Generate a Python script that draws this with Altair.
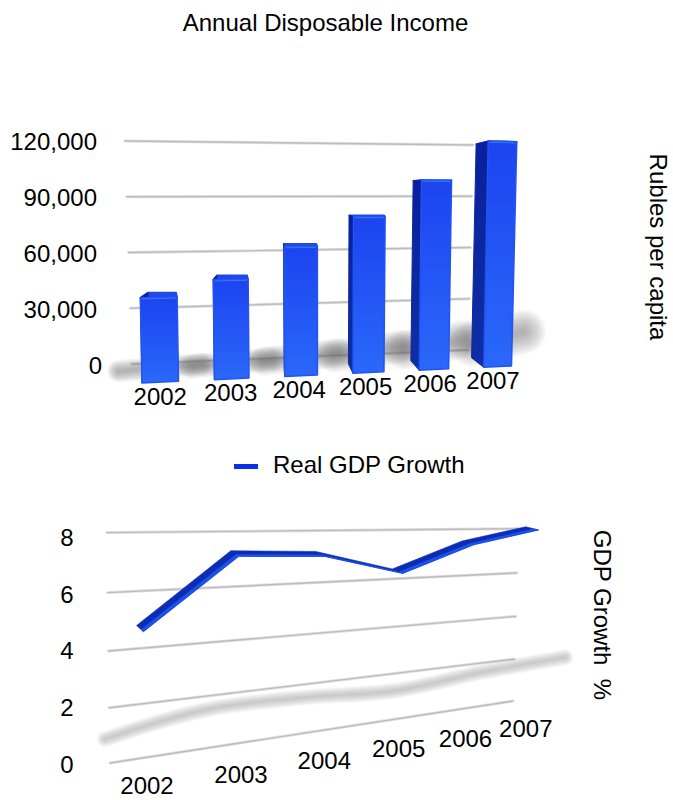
import altair as alt
import pandas as pd

# Series and labels
YEARS = ["2002", "2003", "2004", "2005", "2006", "2007"]
INCOME = [41000, 49000, 65000, 80000, 99000, 120000]
INCOME_TICKS = [0, 30000, 60000, 90000, 120000]
GDP = [4.7, 7.2, 7.1, 6.3, 7.4, 8.0]
GDP_TICKS = [0, 2, 4, 6, 8]

FONT = "Liberation Sans"
SX = alt.Scale(domain=[0, 673], range=[0, 673])
SY = alt.Scale(domain=[0, 800], range=[0, 800])


# ---- perspective of the income bars ----
def bar_width(i):
    return 0.5 - 0.012 * i

def bar_x(s):
    return 142 + 73.5 * s / (1 + 0.0151 * s)

def bar_pt(s, v):
    x0 = bar_x(s)
    base = 383 - 17 * (x0 - 142) / 369
    unit = (2.07 - 0.000573 * (x0 - 160)) / 1000
    lean = (x0 - 320) * 0.00023 / 1000
    return x0 + lean * v, base - v * unit

def bar_back(s, v):
    x, y = bar_pt(s, v)
    return x - (bar_x(s) - 275) * 0.058, y - 9.5 + 0.000104 * v

def income_grid(v):
    t = v / 120000
    return (132 - 7 * t, 364 - 223 * t, 468 + 5 * t, 350 - 205 * t)


# ---- perspective of the GDP plane ----
def gdp_left_y(v):
    return 763 - 27.2 * v - 0.2 * v * v

def gdp_right_y(v):
    return 701 - 20.75 * v - 0.1 * v * v

def gdp_pt(i, v):
    x = 140 + 100 * i / (1 + 0.055 * i)
    u = (140 + 101.3 * i / (1 + 0.055 * i) - 110) / 405
    return x, gdp_left_y(v) + (gdp_right_y(v) - gdp_left_y(v)) * u

def gdp_shadow(i, v):
    x = 105 + 104 * i / (1 + 0.026 * i)
    return x, 783.4 - 0.131 * x - 6.5 * v


# ---- mark helpers ----
def polygons(rows, **mark):
    df = pd.DataFrame(rows, columns=["g", "n", "x", "y"])
    return alt.Chart(df).mark_line(interpolate="linear-closed", **mark).encode(
        x=alt.X("x:Q", scale=SX, axis=None),
        y=alt.Y("y:Q", scale=SY, axis=None),
        detail="g:N",
        order="n:Q",
    )

def strokes(rows, interpolate="linear", cap="round", **mark):
    df = pd.DataFrame(rows, columns=["g", "n", "x", "y", "w"])
    return alt.Chart(df).mark_line(interpolate=interpolate, strokeCap=cap, strokeJoin="round", **mark).encode(
        x=alt.X("x:Q", scale=SX, axis=None),
        y=alt.Y("y:Q", scale=SY, axis=None),
        detail="g:N",
        order="n:Q",
        strokeWidth=alt.StrokeWidth("w:Q", scale=None, legend=None),
    )

def rules(rows):
    df = pd.DataFrame(rows, columns=["x", "y", "x2", "y2"])
    enc = dict(
        x=alt.X("x:Q", scale=SX, axis=None),
        y=alt.Y("y:Q", scale=SY, axis=None),
        x2="x2:Q",
        y2="y2:Q",
    )
    return [
        alt.Chart(df).mark_rule(color="#e0e0e0", strokeWidth=3, strokeCap="round").encode(**enc),
        alt.Chart(df).mark_rule(color="#bdbdbd", strokeWidth=1.4, strokeCap="round").encode(**enc),
    ]

def texts(rows, size=24, align="center", angle=0):
    df = pd.DataFrame(rows, columns=["x", "y", "label"])
    return alt.Chart(df).mark_text(
        font=FONT, fontSize=size, align=align, baseline="middle", angle=angle, color="#000000"
    ).encode(
        x=alt.X("x:Q", scale=SX, axis=None),
        y=alt.Y("y:Q", scale=SY, axis=None),
        text="label:N",
    )


# ---- income chart ----
layers = []
layers += rules([income_grid(v) for v in INCOME_TICKS])

# soft floor shadows: many faint strokes of shrinking width build up a blur
shadow_rows = []
SHADOW_LEVELS = [1.0, 0.92, 0.84, 0.76, 0.68, 0.6, 0.52, 0.44, 0.36, 0.28, 0.2, 0.12]
for i, v in enumerate(INCOME):
    xl, yl = bar_pt(i, 0)
    xr, yr = bar_pt(i + bar_width(i), 0)
    cx = (xl + xr) / 2
    cy = (yl + yr) / 2 - 10 - 0.000125 * v
    half = 50 - 0.0002 * v
    thick = 11 + 0.00028 * v
    rise = 0.3 * (i / 5) ** 2 + 0.08
    for k, f in enumerate(SHADOW_LEVELS):
        g = f"{i}-{k}"
        shadow_rows.append((g, 0, cx - half, cy + half * 0.1, thick * f))
        shadow_rows.append((g, 1, cx + half, cy - half * rise, thick * f))
layers.append(strokes(shadow_rows, color="#707070", opacity=0.055))

top_rows, side_rows, front_rows, edge_rows = [], [], [], []
for i, v in enumerate(INCOME):
    s0, s1 = i, i + bar_width(i)
    fl0, fl1 = bar_pt(s0, 0), bar_pt(s0, v)
    fr0, fr1 = bar_pt(s1, 0), bar_pt(s1, v)
    bl0, bl1 = bar_back(s0, 0), bar_back(s0, v)
    br1 = (fr1[0] - 1, bl1[1])
    for n, p in enumerate([fl1, fr1, br1, bl1]):
        top_rows.append((i, n, *p))
    for n, p in enumerate([fl0, fl1, bl1, bl0]):
        side_rows.append((i, n, *p))
    for n, p in enumerate([fl0, fl1, fr1, fr0]):
        front_rows.append((i, n, *p))
    edge_rows.append((i, 0, fl1[0] + 2, fl1[1] + 1.2, 1))
    edge_rows.append((i, 1, fr1[0] - 2, fr1[1] + 1.2, 1))

layers.append(polygons(top_rows, fill="#1f48ea", stroke="#1f48ea", strokeWidth=1.5, strokeJoin="round"))
layers.append(polygons(
    side_rows,
    fill=alt.LinearGradient(
        gradient="linear", x1=0, x2=0, y1=0, y2=1,
        stops=[alt.GradientStop(color="#0a1f9e", offset=0), alt.GradientStop(color="#0f2fa4", offset=1)],
    ),
    stroke="#0c27a0", strokeWidth=1, strokeJoin="round",
))
layers.append(polygons(
    front_rows,
    fill=alt.LinearGradient(
        gradient="linear", x1=0, x2=0, y1=0, y2=1,
        stops=[alt.GradientStop(color="#1c44f0", offset=0), alt.GradientStop(color="#2a68fa", offset=1)],
    ),
    stroke="#2353f2", strokeWidth=1.5, strokeJoin="round",
))
layers.append(strokes(edge_rows, color="#3f86f0", opacity=0.8))

layers.append(texts([(325.5, 24, "Annual Disposable Income")]))
tick_labels = [f"{v:,}" for v in INCOME_TICKS]
layers.append(texts(
    [(97 + (5 if v == 0 else 0), 367 - 224 * v / 120000, lab) for v, lab in zip(INCOME_TICKS, tick_labels)],
    align="right",
))
year_rows = []
for i, y in enumerate(YEARS):
    xl, yl = bar_pt(i, 0)
    xr, yr = bar_pt(i + bar_width(i), 0)
    year_rows.append(((xl + xr) / 2 - 0.0135 * (xl - 142), (yl + yr) / 2 + 15.5, y))
layers.append(texts(year_rows))
layers.append(texts([(657, 247, "Rubles per capita")], angle=90))


# ---- GDP chart ----
grid_rows = [(110 - 0.375 * v, gdp_left_y(v), 513 + 0.625 * v, gdp_right_y(v)) for v in GDP_TICKS]
layers += rules(grid_rows)

blur_rows = []
for k, w in enumerate([16, 14, 12, 10, 8, 6, 4, 2]):
    for i, v in enumerate(GDP):
        blur_rows.append((k, i, *gdp_shadow(i, v), w))
layers.append(strokes(blur_rows, interpolate="monotone", color="#8a8a8a", opacity=0.07))

# the ribbon is a flat band, drawn from its back edge to its front edge
back, mid, front = [], [], []
for i, v in enumerate(GDP):
    x, y = gdp_pt(i, v)
    dx = 3.4 + 0.6 * i
    dy = 3.1 - 0.3 * i
    back.append((x - dx, y - dy))
    mid.append((x + 0.3 * dx, y + 0.3 * dy))
    front.append((x + dx, y + dy))
dark = back + front[::-1]
light = mid + front[::-1]
layers.append(polygons([("r", n, *p) for n, p in enumerate(dark)], fill="#0b2cb4", stroke="#0b2cb4", strokeWidth=0.6))
layers.append(polygons([("r", n, *p) for n, p in enumerate(light)], fill="#1c52ea", stroke="#1c52ea", strokeWidth=0.4))

# legend
layers.append(strokes(
    [("k", 0, 234, 466.5, 5), ("k", 1, 258, 466.5, 5)],
    cap="butt", color="#0a30e8",
))
layers.append(texts([(273, 466, "Real GDP Growth")], align="left"))

layers.append(texts(
    [(67, 766 - 28.4 * v, str(v)) for v in GDP_TICKS],
))
gdp_years = []
for i, y in enumerate(YEARS):
    x = 147 + 100 * i / (1 + 0.064 * i)
    gdp_years.append((x, min(787, 791 - 0.161 * (x - 147)), y))
layers.append(texts(gdp_years))
layers.append(texts([(601, 615, "GDP Growth\u00a0\u00a0%")], angle=90))

chart = alt.layer(*layers).properties(
    width=673, height=800, padding=0, autosize=alt.AutoSizeParams(type="none"), background="#ffffff",
).configure_view(stroke=None)

chart.save("out.html", embed_options={"renderer": "svg", "actions": False})
